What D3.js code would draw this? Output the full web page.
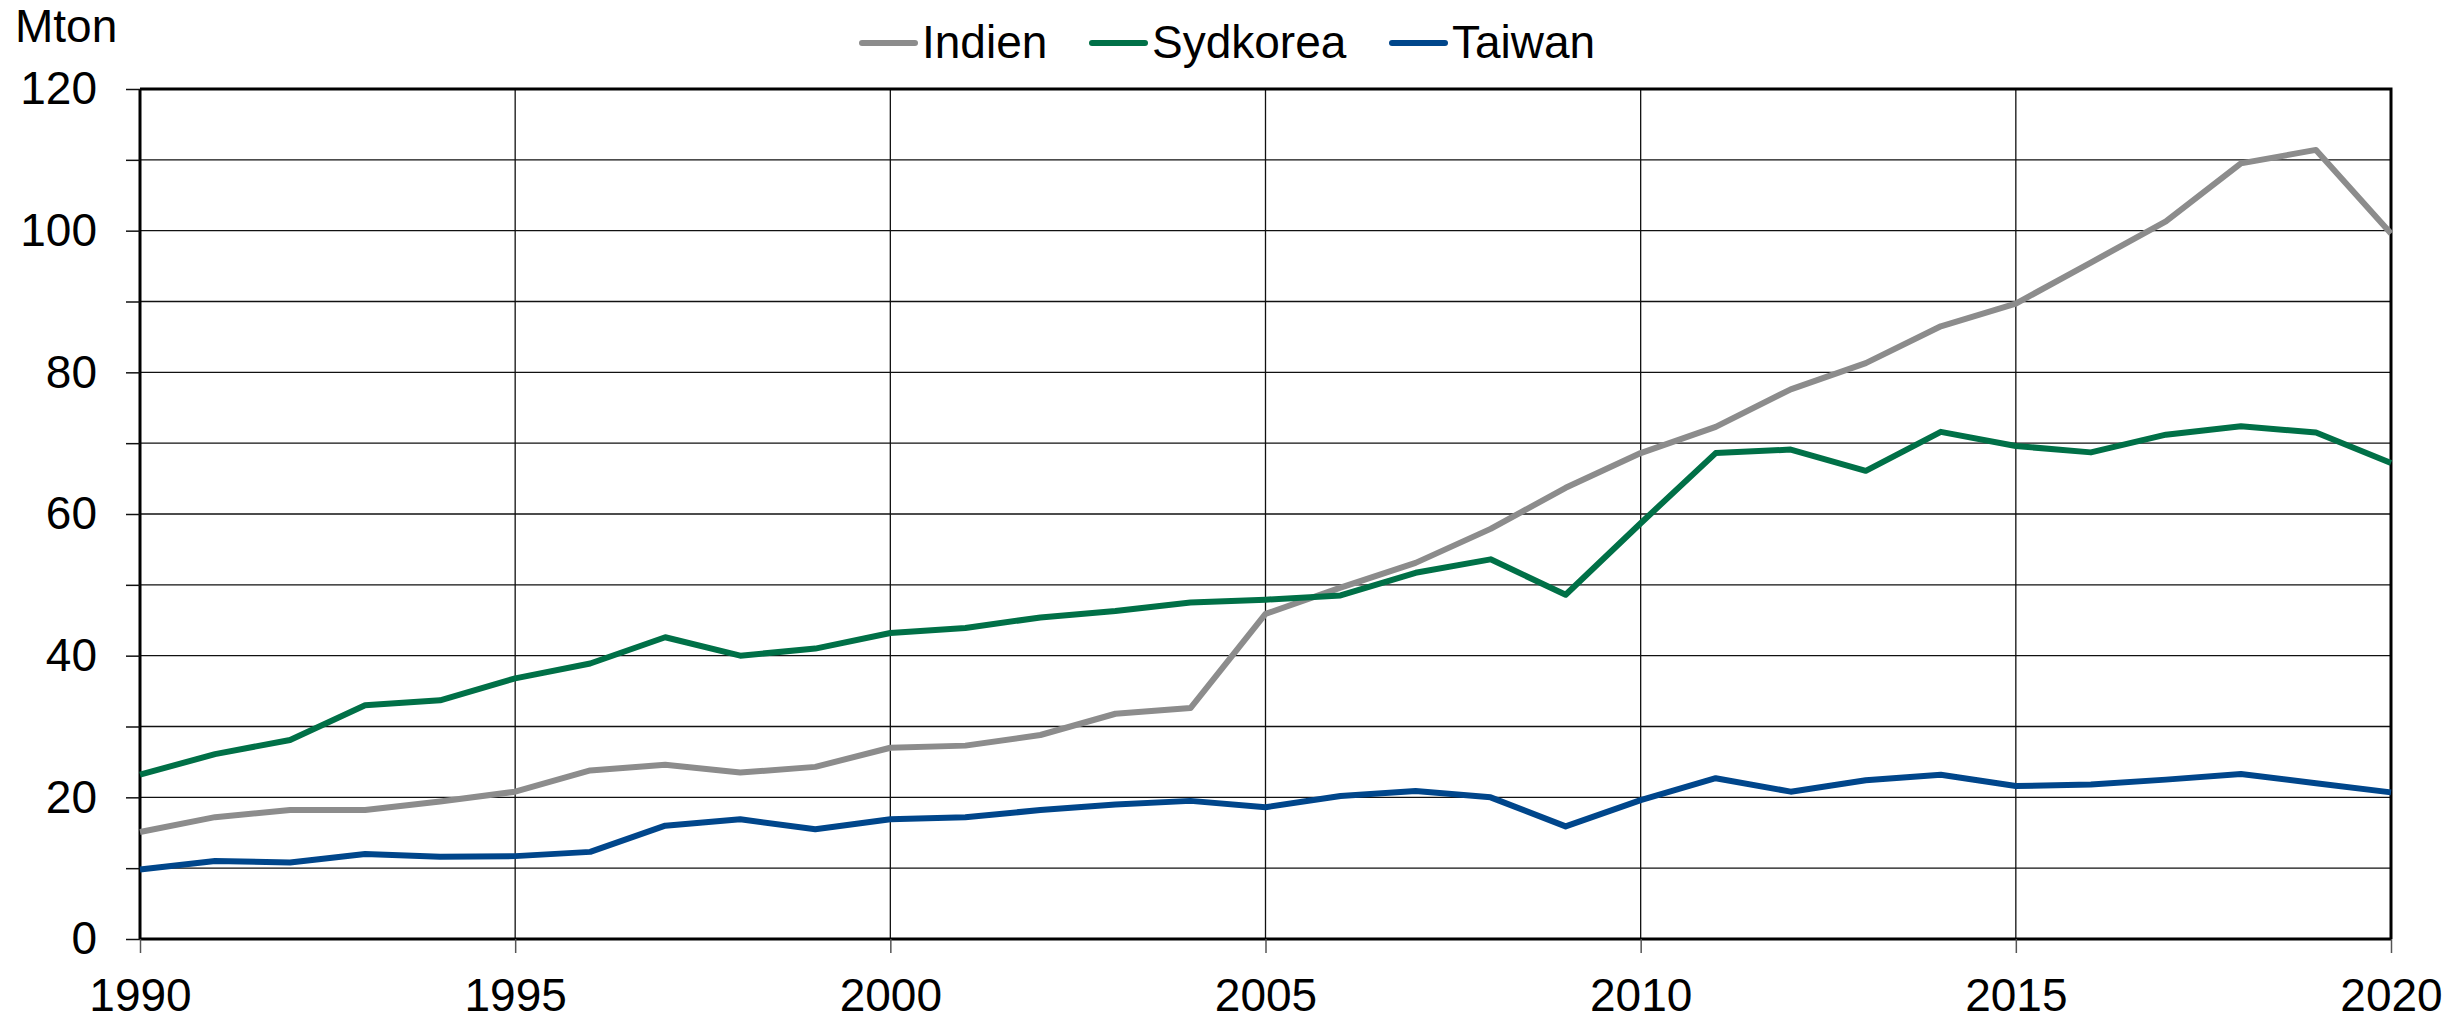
<!DOCTYPE html>
<html>
<head>
<meta charset="utf-8">
<script src="https://cdn.jsdelivr.net/npm/d3@7"></script>
<style>
  html, body { margin: 0; padding: 0; background: #fff; }
  svg { display: block; font-family: "Liberation Sans", Arial, sans-serif; }
</style>
</head>
<body>
<svg id="chart" width="2461" height="1020"></svg>
<script>
// data
const years = d3.range(1990, 2021);
const indien = [15.1, 17.2, 18.2, 18.2, 19.4, 20.8, 23.8, 24.6, 23.5, 24.3, 27.0, 27.3, 28.8, 31.8, 32.6, 45.9,
  49.6, 53.1, 57.9, 63.7, 68.6, 72.3, 77.6, 81.3, 86.5, 89.7, 95.5, 101.3, 109.5, 111.4, 99.6];
const sydkorea = [23.2, 26.1, 28.1, 33.0, 33.7, 36.8, 38.9, 42.6, 40.0, 41.0, 43.2, 43.9, 45.4, 46.3, 47.5, 47.9,
  48.5, 51.7, 53.6, 48.6, 58.7, 68.6, 69.1, 66.1, 71.6, 69.6, 68.7, 71.2, 72.4, 71.5, 67.2];
const taiwan = [9.8, 11.0, 10.8, 12.0, 11.6, 11.7, 12.3, 16.0, 16.9, 15.5, 16.9, 17.2, 18.2, 19.0, 19.5, 18.6,
  20.2, 20.9, 20.0, 15.9, 19.6, 22.7, 20.8, 22.4, 23.2, 21.6, 21.8, 22.5, 23.3, 22.0, 20.7];
const seriesNames = ["Indien", "Sydkorea", "Taiwan"];
const yTicks = d3.range(0, 121, 10);
const xTicks = d3.range(1990, 2021, 5);
const unitLabel = "Mton";

const colors = { Indien: "#8c8c8c", Sydkorea: "#007047", Taiwan: "#00468b" };
const series = [
  { name: "Indien", values: indien },
  { name: "Sydkorea", values: sydkorea },
  { name: "Taiwan", values: taiwan }
];

const margin = { top: 89, right: 70, bottom: 81, left: 140 },
  width = 2461, height = 1020;

const svg = d3.select("#chart");

const x = d3.scaleLinear()
  .domain([1990, 2020])
  .range([margin.left, width - margin.right]);
const y = d3.scaleLinear()
  .domain([0, 120])
  .range([height - margin.bottom, margin.top]);

// grid
const grid = svg.append("g").attr("stroke", "#111").attr("stroke-width", 1.3);
grid.selectAll("line.h")
  .data(yTicks.filter(d => d > 0 && d < 120))
  .join("line")
  .attr("x1", x(1990)).attr("x2", x(2020))
  .attr("y1", d => y(d)).attr("y2", d => y(d));
grid.selectAll("line.v")
  .data(xTicks.filter(d => d > 1990 && d < 2020))
  .join("line")
  .attr("y1", y(0)).attr("y2", y(120))
  .attr("x1", d => x(d)).attr("x2", d => x(d));

// top and right frame
svg.append("path")
  .attr("fill", "none")
  .attr("stroke", "#000")
  .attr("stroke-width", 3)
  .attr("d", `M${x(1990)},${y(120)}H${x(2020)}V${y(0)}`);

// axes
const yAxis = svg.append("g")
  .attr("transform", `translate(${margin.left},0)`)
  .call(d3.axisLeft(y).tickValues(yTicks).tickSize(14).tickPadding(29)
    .tickFormat(d => d % 20 === 0 ? d : ""));
yAxis.select(".domain").attr("stroke-width", 3).attr("d", `M0,${y(0)}V${y(120)}`);
yAxis.selectAll(".tick line").attr("stroke", "#111").attr("stroke-width", 1.5);
yAxis.selectAll("text")
  .attr("font-size", 46)
  .attr("fill", "#000")
  .attr("font-family", "Liberation Sans, Arial, sans-serif");

const xAxis = svg.append("g")
  .attr("transform", `translate(0,${y(0)})`)
  .call(d3.axisBottom(x).tickValues(xTicks).tickSize(14).tickPadding(25).tickFormat(d3.format("d")));
xAxis.select(".domain").attr("stroke-width", 3).attr("d", `M${x(1990)},0H${x(2020)}`);
xAxis.selectAll(".tick line").attr("stroke", "#555").attr("stroke-width", 1.5);
xAxis.selectAll("text")
  .attr("font-size", 46)
  .attr("fill", "#000")
  .attr("font-family", "Liberation Sans, Arial, sans-serif");

// lines
const line = d3.line()
  .x((d, i) => x(years[i]))
  .y(d => y(d));

svg.append("g")
  .selectAll("path")
  .data(series)
  .join("path")
  .attr("fill", "none")
  .attr("stroke", d => colors[d.name])
  .attr("stroke-width", 6)
  .attr("stroke-linejoin", "round")
  .attr("d", d => line(d.values));

// unit label
svg.append("text")
  .attr("x", 15)
  .attr("y", 42)
  .attr("font-size", 46)
  .attr("fill", "#000")
  .text(unitLabel);

// legend
const legendX = [862, 1092, 1392];
const legend = svg.append("g")
  .selectAll("g")
  .data(seriesNames)
  .join("g")
  .attr("transform", (d, i) => `translate(${legendX[i]},43)`);
legend.append("line")
  .attr("x1", 0).attr("x2", 53)
  .attr("stroke", d => colors[d])
  .attr("stroke-width", 6)
  .attr("stroke-linecap", "round");
legend.append("text")
  .attr("x", 60)
  .attr("y", 15)
  .attr("font-size", 46)
  .attr("fill", "#000")
  .text(d => d);
</script>
</body>
</html>
